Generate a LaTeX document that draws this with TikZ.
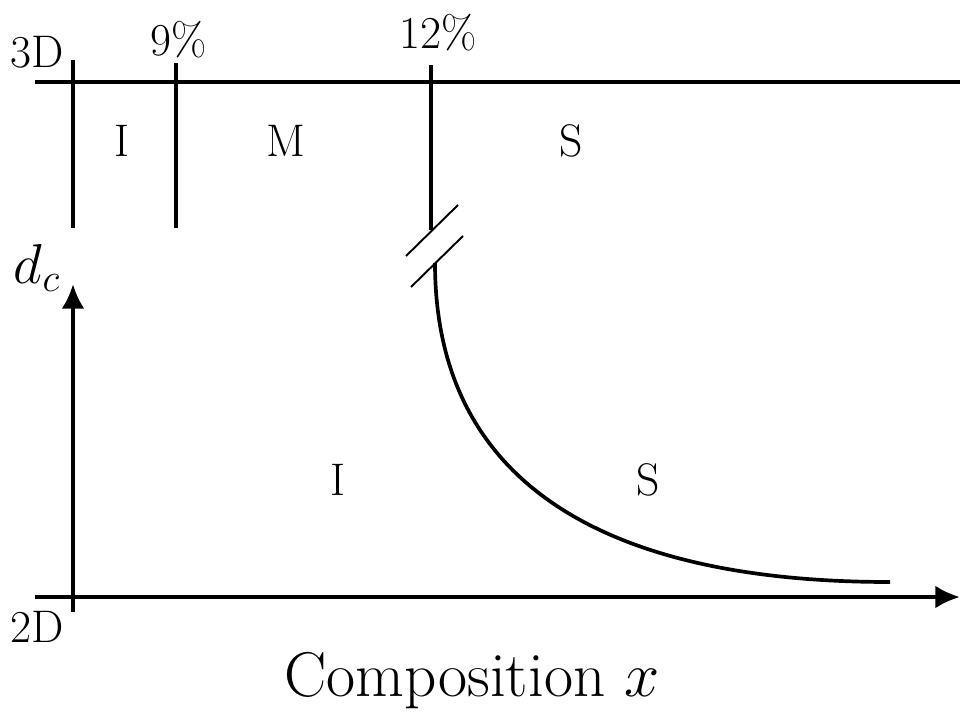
\RequirePackage{fix-cm}
\documentclass[tikz,border=0pt]{standalone}
\usetikzlibrary{arrows.meta}
\begin{document}
\begin{tikzpicture}[x=0.02cm,y=-0.02cm,
  thickline/.style={line width=2.3pt},
  breakline/.style={line width=1.1pt},
  lbl/.style={inner sep=0pt,font=\fontsize{26}{31}\selectfont},
  biglbl/.style={inner sep=0pt,font=\fontsize{36}{42}\selectfont},
  arr/.style={-{Latex[length=14pt,width=13pt]}}]
\useasboundingbox (0,0) rectangle (960,711);
% coordinates
\coordinate (tl) at (35,82);
\coordinate (tr) at (960,82);
\coordinate (v1t) at (73,60);
\coordinate (v1b) at (73,228);
\coordinate (v2t) at (176,63);
\coordinate (v2b) at (176,228);
\coordinate (v3t) at (431,65);
\coordinate (v3b) at (431,230);
\coordinate (b1a) at (406,256);
\coordinate (b1b) at (458,205);
\coordinate (b2a) at (411,287);
\coordinate (b2b) at (463,236);
\coordinate (cs) at (435,263);
\coordinate (ce) at (890,582);
\coordinate (xl) at (35,597);
\coordinate (xr) at (960,597);
\coordinate (yb) at (73,612);
\coordinate (yt) at (73,284);
% lines
\draw[thickline] (tl) -- (tr);
\draw[thickline] (v1t) -- (v1b);
\draw[thickline] (v2t) -- (v2b);
\draw[thickline] (v3t) -- (v3b);
\draw[breakline] (b1a) -- (b1b);
\draw[breakline] (b2a) -- (b2b);
\draw[thickline,line width=2.1pt] (cs) .. controls (435,480) and (600,582) .. (ce);
\draw[thickline,arr] (xl) -- (xr);
\draw[thickline,arr] (yb) -- (yt);
% labels
\node[lbl] (l3d) at (37,52) {3D};
\node[lbl] (l9) at (179,40) {9\%};
\node[lbl] (l12) at (438,33) {12\%};
\node[lbl] (tI) at (122,141) {I};
\node[lbl] (tM) at (286,141) {M};
\node[lbl] (tS) at (571,141) {S};
\node[lbl,font=\fontsize{32}{38}\selectfont] (dc) at (37,268) {$d_c$};
\node[lbl] (bI) at (338,480) {I};
\node[lbl] (bS) at (648,480) {S};
\node[lbl] (l2d) at (37,627) {2D};
\node[biglbl] (comp) at (472,681) {Composition $x$};
\end{tikzpicture}
\end{document}
